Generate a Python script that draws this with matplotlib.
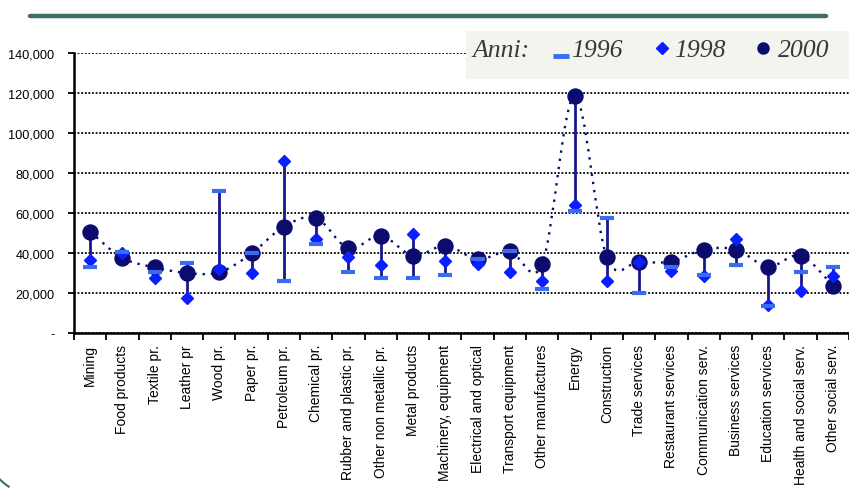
import matplotlib.pyplot as plt
import numpy as np
from matplotlib.path import Path
from matplotlib.patches import PathPatch, Arc, Rectangle
from matplotlib.lines import Line2D
from matplotlib.ticker import FuncFormatter

sectors = ['Mining', 'Food products', 'Textile pr.', 'Leather pr', 'Wood pr.', 'Paper pr.',
           'Petroleum pr.', 'Chemical pr.', 'Rubber and plastic pr.', 'Other non metallic pr.',
           'Metal products', 'Machinery, equipment', 'Electrical and optical',
           'Transport equipment', 'Other manufactures', 'Energy', 'Construction',
           'Trade services', 'Restaurant services', 'Communication serv.', 'Business services',
           'Education services', 'Health and social serv.', 'Other social serv.']

val_1996 = [33200, 40300, 30300, 34800, 71200, 39800, 25800, 44300, 30300, 27300,
            27300, 29000, 37000, 40800, 22000, 61200, 57300, 20000, 32800, 29000,
            34000, 13300, 30300, 33200]
val_1998 = [36700, 40000, 27300, 17500, 32000, 30000, 86000, 47000, 37800, 34000,
            49300, 36200, 34500, 30300, 26200, 64000, 25800, 35500, 30800, 28300,
            47000, 14200, 20800, 28700]
val_2000 = [50700, 37500, 32800, 30000, 30300, 39800, 53200, 57500, 42300, 48700,
            38700, 43700, 37000, 40800, 34500, 118700, 37800, 35700, 35700, 41700,
            41700, 33200, 38700, 23700]

yticks = [0, 20000, 40000, 60000, 80000, 100000, 120000, 140000]

c_1996 = '#3a6cf2'
c_1998 = '#0a1eff'
c_2000 = '#0c0c6e'
c_range = '#17178a'
c_slide = '#3f6d6a'


def smooth_path(xs, ys):
    # curva tipo "linea smussata" di Excel (Catmull-Rom -> Bezier)
    pts = np.column_stack([xs, ys]).astype(float)
    verts = [pts[0]]
    codes = [Path.MOVETO]
    n = len(pts)
    for i in range(n - 1):
        p0 = pts[i - 1] if i > 0 else pts[i]
        p1 = pts[i]
        p2 = pts[i + 1]
        p3 = pts[i + 2] if i + 2 < n else pts[i + 1]
        verts += [p1 + (p2 - p0) / 6, p2 - (p3 - p1) / 6, p2]
        codes += [Path.CURVE4] * 3
    return Path(verts, codes)


fig = plt.figure(figsize=(8.49, 4.89), dpi=100)
ax = fig.add_axes([74 / 849, 155 / 489, 1 - 74 / 849, 280 / 489])

x = np.arange(len(sectors))
lo = np.minimum(np.minimum(val_1996, val_1998), val_2000)
hi = np.maximum(np.maximum(val_1996, val_1998), val_2000)

# linea tratteggiata che collega i valori 2000
patch = PathPatch(smooth_path(x, val_2000), facecolor='none', edgecolor=c_2000,
                  lw=1.7, linestyle=(0, (1, 2.5)), zorder=3)
ax.add_patch(patch)

ax.vlines(x, lo, hi, color=c_range, lw=2, zorder=4)
ax.plot(x, val_2000, 'o', color=c_2000, ms=10.8, zorder=5, linestyle='none')
ax.plot(x, val_1998, 'D', color=c_1998, ms=6.5, zorder=6, linestyle='none')
ax.plot(x, val_1996, '_', color=c_1996, ms=10, mew=3, zorder=7, linestyle='none')

ax.set_xlim(-0.5, len(sectors) - 0.5)
ax.set_ylim(0, 140000)
ax.set_yticks(yticks)
ax.yaxis.set_major_formatter(FuncFormatter(lambda v, p: '-' if v == 0 else f'{int(v):,}'))
ax.yaxis.grid(True, color='black', lw=1.3, linestyle=(0, (1, 1)))
ax.set_axisbelow(True)

ax.set_xticks(x)
ax.set_xticklabels(sectors, rotation=90, fontsize=10, family='Liberation Sans')
ax.set_xticks(np.arange(len(sectors) + 1) - 0.5, minor=True)
ax.tick_params(axis='x', which='major', length=0, pad=8)
ax.tick_params(axis='x', which='minor', length=5, width=1.3, direction='out')
ax.tick_params(axis='y', length=4, width=1.3, labelsize=9.2, pad=10)
for lab in ax.get_yticklabels():
    lab.set_family('Liberation Sans')

ax.spines['top'].set_visible(False)
ax.spines['right'].set_visible(False)
ax.spines['left'].set_linewidth(1.8)
ax.spines['bottom'].set_linewidth(1.8)

# legenda
fig.patches.append(Rectangle((466 / 849, 1 - 80 / 489), 383 / 849, 48 / 489,
                             transform=fig.transFigure, facecolor='#f3f4ee',
                             edgecolor='none', zorder=10))
lg_y = 1 - 51 / 489
font_lg = dict(fontsize=18.5, style='italic', family='Liberation Serif',
               color='#3a3a3a', va='center', zorder=11)
fig.text(472 / 849, lg_y, 'Anni:', **font_lg)
fig.lines.append(Line2D([561 / 849], [1 - 57 / 489], marker='_', ms=11, mew=3.5, color=c_1996,
                        transform=fig.transFigure, zorder=11))
fig.text(571 / 849, lg_y, '1996', **font_lg)
fig.lines.append(Line2D([662 / 849], [1 - 49 / 489], marker='D', ms=6.5, color=c_1998,
                        transform=fig.transFigure, zorder=11))
fig.text(674 / 849, lg_y, '1998', **font_lg)
fig.lines.append(Line2D([763 / 849], [1 - 49 / 489], marker='o', ms=8, color=c_2000,
                        transform=fig.transFigure, zorder=11))
fig.text(778 / 849, lg_y, '2000', **font_lg)

# decorazioni della diapositiva
fig.lines.append(Line2D([30 / 849, 826 / 849], [1 - 17 / 489, 1 - 17 / 489], lw=3.2,
                        color=c_slide, solid_capstyle='round', transform=fig.transFigure))
fig.patches.append(Arc((40 / 849, 49 / 489), 114 / 849, 114 / 489, theta1=205, theta2=250,
                       transform=fig.transFigure, color=c_slide, lw=1.5))

fig.savefig('out.png', dpi=100)
